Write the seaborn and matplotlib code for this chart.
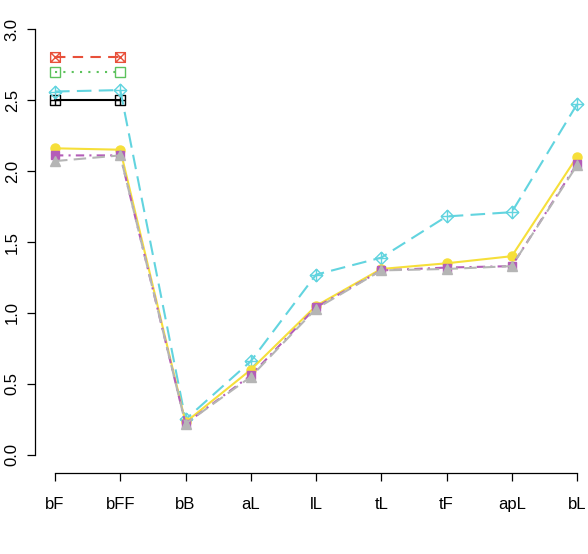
import matplotlib
matplotlib.use("Agg")
import matplotlib.pyplot as plt
from matplotlib.path import Path
import numpy as np
import pandas as pd
import seaborn as sns

# categories on the x axis
cats = ['bF', 'bFF', 'bB', 'aL', 'lL', 'tL', 'tF', 'apL', 'bL']

# series values
black_vals = [2.50, 2.50]
red_vals = [2.80, 2.80]
green_vals = [2.70, 2.70]
cyan_vals = [2.56, 2.57, 0.25, 0.66, 1.27, 1.39, 1.68, 1.71, 2.47]
yellow_vals = [2.16, 2.15, 0.23, 0.60, 1.05, 1.31, 1.35, 1.40, 2.10]
purple_vals = [2.11, 2.11, 0.22, 0.56, 1.04, 1.30, 1.32, 1.33, 2.05]
gray_vals = [2.07, 2.11, 0.22, 0.55, 1.03, 1.30, 1.31, 1.33, 2.04]

y_ticks = [0.0, 0.5, 1.0, 1.5, 2.0, 2.5, 3.0]


def make_marker(kind):
    # outline shape plus inner strokes, like R's pch 7 / 9 / 12
    if kind == 'diamond':
        verts = [(0, -1), (1, 0), (0, 1), (-1, 0), (0, -1)]
    else:
        verts = [(-1, -1), (1, -1), (1, 1), (-1, 1), (-1, -1)]
    codes = [Path.MOVETO] + [Path.LINETO] * 3 + [Path.CLOSEPOLY]
    if kind == 'square_x':
        verts += [(-1, -1), (1, 1), (-1, 1), (1, -1)]
    else:
        verts += [(0, -1), (0, 1), (-1, 0), (1, 0)]
    codes += [Path.MOVETO, Path.LINETO, Path.MOVETO, Path.LINETO]
    return Path(verts, codes)


sns.set_style("white")
plt.rcParams['font.family'] = ['Liberation Sans', 'DejaVu Sans']

W, H = 588, 554
fig = plt.figure(figsize=(W / 100, H / 100), dpi=100)
ax = fig.add_axes([35 / W, (H - 473) / H, (W - 35) / W, (473 - 12) / H])

series = [
    (black_vals, 'black', '-', make_marker('square_plus'), 'none', 7),
    (red_vals, '#e8503a', (0, (5, 3.5)), make_marker('square_x'), 'none', 7),
    (green_vals, '#5cc25c', (0, (1, 3)), 's', 'none', 7),
    (cyan_vals, '#62d4df', (0, (7, 3.5)), make_marker('diamond'), 'none', 9),
    (yellow_vals, '#f6df3a', '-', 'o', '#f6df3a', 6.5),
    (purple_vals, '#b45db8', (0, (4, 2.5, 1, 2.5)), 's', '#b45db8', 6),
    (gray_vals, '#b5b5b5', (0, (6, 3)), '^', '#b5b5b5', 7),
]

for vals, col, ls, mk, fc, ms in series:
    df = pd.DataFrame({'x': np.arange(len(vals)), 'y': vals})
    sns.lineplot(data=df, x='x', y='y', ax=ax, color=col, linestyle=ls,
                 linewidth=1.5, marker=mk, markersize=ms,
                 markerfacecolor=fc, markeredgecolor=col,
                 markeredgewidth=1.0, sort=False, legend=False)

ax.set_xlim((35 - 55) / 65.25, (588 - 55) / 65.25)
ax.set_ylim(-0.127, 3.12)

ax.set_xticks(range(len(cats)))
ax.set_xticklabels(cats)
ax.set_yticks(y_ticks)
ax.set_yticklabels([f'{t:.1f}' for t in y_ticks], rotation=90, va='center')
ax.set_xlabel('')
ax.set_ylabel('')

for side in ['top', 'right']:
    ax.spines[side].set_visible(False)
for side in ['left', 'bottom']:
    ax.spines[side].set_color('black')
    ax.spines[side].set_linewidth(0.9)
ax.spines['left'].set_bounds(0, 3)
ax.spines['bottom'].set_bounds(0, len(cats) - 1)

ax.tick_params(axis='both', which='major', length=6, width=0.9, color='black',
               labelsize=12, labelcolor='black', left=True, bottom=True)
ax.tick_params(axis='x', pad=11)
ax.tick_params(axis='y', pad=5)

fig.savefig('out.png', dpi=100)
